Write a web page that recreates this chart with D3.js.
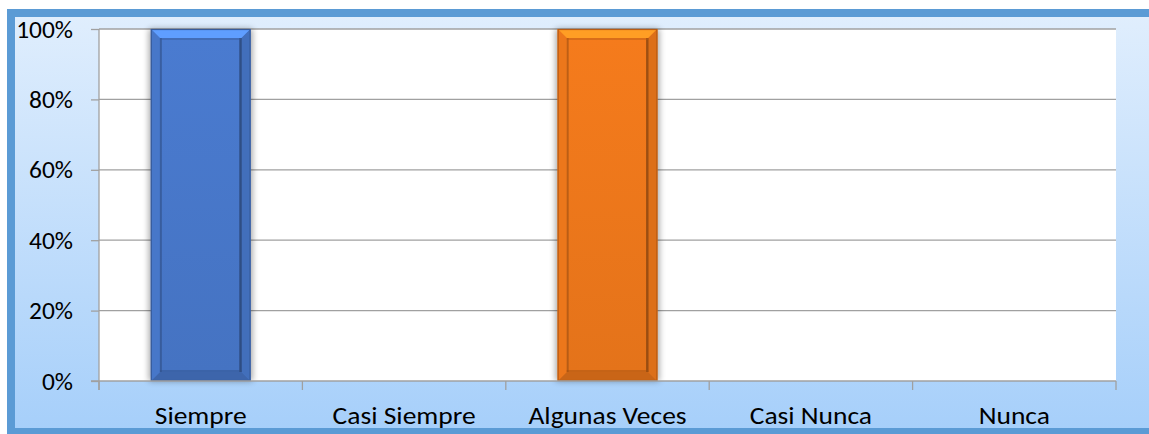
<!DOCTYPE html>
<html>
<head>
<meta charset="utf-8">
<script src="https://cdn.jsdelivr.net/npm/d3@7"></script>
<style>
  body { margin: 0; background: #fff; }
  svg { display: block; font-family: Carlito, "Open Sans", sans-serif; }
</style>
</head>
<body>
<svg id="chart" width="1149" height="434"></svg>
<script>
const categories = ['Siempre', 'Casi Siempre', 'Algunas Veces', 'Casi Nunca', 'Nunca']
const values = [1, 0, 1, 0, 0]
const barColors = ['#4a7bd0', '#c0504d', '#f57b1c', '#8064a2', '#4bacc6']
const yTicks = [0, 0.2, 0.4, 0.6, 0.8, 1]

const width = 1149, height = 434
const margin = { top: 29, right: 33, bottom: 53, left: 99 }
const w = width - margin.left - margin.right
const h = height - margin.top - margin.bottom
const font = 'Carlito, "Open Sans", sans-serif'

const svg = d3.select('#chart')
const defs = svg.append('defs')

const bg = defs.append('linearGradient').attr('id', 'bg').attr('x1', 0).attr('y1', 0).attr('x2', 0).attr('y2', 1)
bg.append('stop').attr('offset', '0%').attr('stop-color', '#e0eefd')
bg.append('stop').attr('offset', '100%').attr('stop-color', '#a6cffa')

defs.append('filter').attr('id', 'shadow').attr('x', '-20%').attr('y', '-5%').attr('width', '140%').attr('height', '110%')
  .append('feGaussianBlur').attr('stdDeviation', 3)

// outer frame
svg.append('rect')
  .attr('x', 11).attr('y', 13).attr('width', 1160).attr('height', 419)
  .attr('fill', 'url(#bg)').attr('stroke', '#5b9bd5').attr('stroke-width', 8)

const g = svg.append('g').attr('transform', `translate(${margin.left},${margin.top})`)

const x = d3.scaleBand().domain(categories).range([0, w]).paddingInner(0).paddingOuter(0)
const y = d3.scaleLinear().domain([0, 1]).range([h, 0])

// plot area
g.append('rect').attr('width', w).attr('height', h).attr('fill', '#fff')

// gridlines
g.append('g').selectAll('line').data(yTicks.filter(d => d > 0)).join('line')
  .attr('x1', 0).attr('x2', w)
  .attr('y1', d => y(d)).attr('y2', d => y(d))
  .attr('stroke', '#a0a0a0').attr('stroke-width', 1.3)

// bars with bevel
const barW = x.bandwidth() * 0.49
const b = 9
const bars = g.append('g').selectAll('g').data(categories.map((c, i) => ({ c, v: values[i], col: barColors[i] })).filter(d => d.v > 0)).join('g')

bars.each(function (d) {
  const el = d3.select(this)
  const x0 = x(d.c) + (x.bandwidth() - barW) / 2
  const x1 = x0 + barW
  const y0 = y(d.v), y1 = y(0)
  const col = d3.color(d.col)
  const id = d.c.replace(/\s/g, '')
  const pts = (arr) => arr.map(p => p.join(',')).join(' ')
  el.append('rect').attr('x', x0 - 2).attr('y', y0).attr('width', barW + 4).attr('height', y1 - y0)
    .attr('fill', '#000').attr('opacity', 0.35).attr('filter', 'url(#shadow)')
  el.append('rect').attr('x', x0).attr('y', y0).attr('width', barW).attr('height', y1 - y0)
    .attr('fill', col.formatHex())
  // top
  el.append('polygon').attr('points', pts([[x0, y0], [x1, y0], [x1 - b, y0 + b], [x0 + b, y0 + b]]))
    .attr('fill', col.brighter(0.7).formatHex())
  // bottom
  el.append('polygon').attr('points', pts([[x0, y1], [x1, y1], [x1 - b, y1 - b], [x0 + b, y1 - b]]))
    .attr('fill', col.darker(0.55).formatHex())
  // left
  el.append('polygon').attr('points', pts([[x0, y0], [x0 + b, y0 + b], [x0 + b, y1 - b], [x0, y1]]))
    .attr('fill', col.darker(0.1).formatHex())
  // right
  el.append('polygon').attr('points', pts([[x1, y0], [x1 - b, y0 + b], [x1 - b, y1 - b], [x1, y1]]))
    .attr('fill', col.darker(0.3).formatHex())
  // inner face
  const face = defs.append('linearGradient').attr('id', 'face' + id)
    .attr('x1', 0).attr('y1', 0).attr('x2', 0).attr('y2', 1)
  face.append('stop').attr('offset', '0%').attr('stop-color', col.formatHex())
  face.append('stop').attr('offset', '100%').attr('stop-color', col.darker(0.2).formatHex())
  el.append('rect').attr('x', x0 + b).attr('y', y0 + b).attr('width', barW - 2 * b).attr('height', y1 - y0 - 2 * b)
    .attr('fill', `url(#face${id})`)
  // inner shading edges
  el.append('line').attr('x1', x0 + b + 1).attr('x2', x0 + b + 1).attr('y1', y0 + b).attr('y2', y1 - b)
    .attr('stroke', col.darker(1.3).formatHex()).attr('stroke-width', 2).attr('opacity', 0.6)
  el.append('line').attr('x1', x1 - b - 1).attr('x2', x1 - b - 1).attr('y1', y0 + b).attr('y2', y1 - b)
    .attr('stroke', col.darker(1.8).formatHex()).attr('stroke-width', 2.5).attr('opacity', 0.75)
  el.append('line').attr('x1', x0 + b).attr('x2', x1 - b).attr('y1', y0 + b + 1).attr('y2', y0 + b + 1)
    .attr('stroke', col.darker(0.8).formatHex()).attr('stroke-width', 1.5).attr('opacity', 0.6)
  el.append('line').attr('x1', x0 + b).attr('x2', x1 - b).attr('y1', y1 - b - 1).attr('y2', y1 - b - 1)
    .attr('stroke', col.darker(1.2).formatHex()).attr('stroke-width', 1.5).attr('opacity', 0.6)
  el.append('rect').attr('x', x0 + 0.5).attr('y', y0 + 0.5).attr('width', barW - 1).attr('height', y1 - y0 - 1)
    .attr('fill', 'none').attr('stroke', col.darker(0.8).formatHex()).attr('stroke-width', 1.2)
})

// y axis
const yAxis = d3.axisLeft(y).tickValues(yTicks).tickFormat(d3.format('.0%')).tickSize(8).tickPadding(18)
const ya = g.append('g').call(yAxis)
ya.select('.domain').attr('stroke', '#a0a0a0').attr('stroke-width', 1.3).attr('d', `M0,0V${h + 9}`)
ya.selectAll('.tick line').attr('stroke', '#a0a0a0').attr('stroke-width', 1.3)
ya.selectAll('.tick text').attr('font-size', 24).attr('fill', '#000').attr('font-family', font)
  .attr('x', null).attr('dy', null)
  .attr('transform', 'translate(-26,8) scale(1.06,1)')

// x axis
const xa = g.append('g').attr('transform', `translate(0,${h})`)
xa.append('line').attr('x1', -8).attr('x2', w).attr('stroke', '#a0a0a0').attr('stroke-width', 1.3)
xa.selectAll('line.tk').data(categories.map(c => x(c) + x.bandwidth()).concat([0])).join('line').attr('class', 'tk')
  .attr('x1', d => d).attr('x2', d => d).attr('y1', 0).attr('y2', 9)
  .attr('stroke', '#a0a0a0').attr('stroke-width', 1.3)
xa.selectAll('text').data(categories).join('text')
  .attr('transform', d => `translate(${x(d) + x.bandwidth() / 2},43) scale(1.1,1)`)
  .attr('text-anchor', 'middle').attr('font-size', 25).attr('fill', '#000').attr('font-family', font)
  .text(d => d)
</script>
</body>
</html>
